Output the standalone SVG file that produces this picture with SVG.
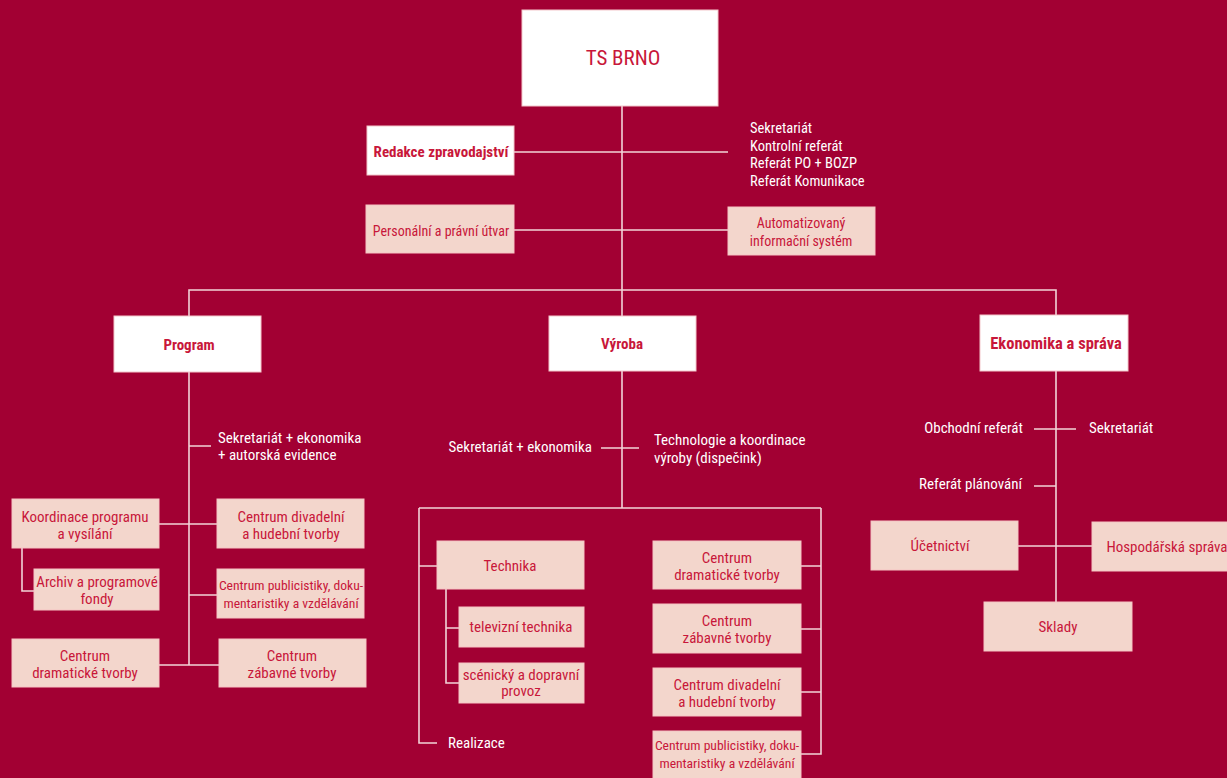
<svg xmlns="http://www.w3.org/2000/svg" width="1227" height="778" viewBox="0 0 1227 778">
<style>
.bg{fill:#a20033}
.w{fill:#ffffff;stroke:#f3c7cc;stroke-width:1}
.l{fill:#f3d6cc;stroke:#f6c4c4;stroke-width:1}
.c{fill:none;stroke:#f2d3d8;stroke-width:1.6}
text{font-family:"Liberation Sans Narrow","Roboto Condensed","Liberation Sans",Arial,sans-serif;font-size:15px}
.t{fill:#c8173a;text-anchor:middle}
.tb{fill:#c8173a;text-anchor:middle;font-weight:bold}
.wt{fill:#ffffff}
.we{fill:#ffffff;text-anchor:end}
.sm{font-size:13.6px}
</style>
<rect class="bg" x="0" y="0" width="1227" height="778"/>
<g id="connectors">
<path class="c" d="M622 106V316M514 152H728M514 230H728M189 316V290H1056V315"/>
<path class="c" d="M189 372V665M189 446H211M159 524H217M22 548V591H34M189 595H217M159 665H219"/>
<path class="c" d="M622 371V508M601 448H639M419 508H821M419 508V743H437M419 566H437M446 589V683H459M446 628H459M821 508V754H801M801 566H821M801 629H821M801 692H821"/>
<path class="c" d="M1056 371V602M1034 429H1076M1034 486H1056M1018 546H1092"/>
</g>
<g id="ts-brno"><rect class="w" x="522" y="10" width="196" height="96"/><text class="t" x="623" y="65" style="font-size:21px">TS BRNO</text></g>
<g id="redakce"><rect class="w" x="367" y="126" width="147" height="49"/><text class="tb" x="441" y="157">Redakce zpravodajství</text></g>
<g id="sekretariat-top"><text class="wt" x="750" y="133" style="font-size:14.5px">Sekretariát</text><text class="wt" x="750" y="151" style="font-size:14.5px">Kontrolní referát</text><text class="wt" x="750" y="168" style="font-size:14.5px">Referát PO + BOZP</text><text class="wt" x="750" y="186" style="font-size:14.5px">Referát Komunikace</text></g>
<g id="personalni"><rect class="l" x="366" y="205" width="148" height="48"/><text class="t" x="441" y="236" style="font-size:14px">Personální a právní útvar</text></g>
<g id="ais"><rect class="l" x="728" y="207" width="147" height="48"/><text class="t" x="801" y="228" style="font-size:14px">Automatizovaný</text><text class="t" x="801" y="246" style="font-size:14px">informační systém</text></g>
<g id="program"><rect class="w" x="114" y="316" width="147" height="56"/><text class="tb" x="189" y="350">Program</text></g>
<g id="vyroba"><rect class="w" x="549" y="316" width="147" height="55"/><text class="tb" x="622" y="349">Výroba</text></g>
<g id="ekonomika"><rect class="w" x="980" y="315" width="148" height="56"/><text class="tb" x="1056" y="349" style="font-size:16.5px">Ekonomika a správa</text></g>
<g id="p-sekretariat"><text class="wt" x="218" y="443">Sekretariát + ekonomika</text><text class="wt" x="218" y="460">+ autorská evidence</text></g>
<g id="p-koordinace"><rect class="l" x="12" y="499" width="147" height="49"/><text class="t" x="85" y="522">Koordinace programu</text><text class="t" x="85" y="539">a vysílání</text></g>
<g id="p-archiv"><rect class="l" x="34" y="569" width="125" height="41"/><text class="t" x="97" y="587">Archiv a programové</text><text class="t" x="97" y="604">fondy</text></g>
<g id="p-divadelni"><rect class="l" x="217" y="499" width="147" height="49"/><text class="t" x="291" y="522">Centrum divadelní</text><text class="t" x="291" y="539">a hudební tvorby</text></g>
<g id="p-publicistiky"><rect class="l" x="217" y="569" width="147" height="49"/><text class="t sm" x="291" y="590">Centrum publicistiky, doku-</text><text class="t sm" x="291" y="608">mentaristiky a vzdělávání</text></g>
<g id="p-dramaticke"><rect class="l" x="12" y="639" width="147" height="48"/><text class="t" x="85" y="661">Centrum</text><text class="t" x="85" y="678">dramatické tvorby</text></g>
<g id="p-zabavne"><rect class="l" x="219" y="639" width="147" height="48"/><text class="t" x="292" y="661">Centrum</text><text class="t" x="292" y="678">zábavné tvorby</text></g>
<g id="v-sekretariat"><text class="we" x="592" y="452">Sekretariát + ekonomika</text></g>
<g id="v-technologie"><text class="wt" x="654" y="445">Technologie a koordinace</text><text class="wt" x="654" y="463">výroby (dispečink)</text></g>
<g id="v-technika"><rect class="l" x="437" y="541" width="147" height="48"/><text class="t" x="510" y="571">Technika</text></g>
<g id="v-televizni"><rect class="l" x="459" y="607" width="125" height="40"/><text class="t" x="521" y="632">televizní technika</text></g>
<g id="v-scenicky"><rect class="l" x="459" y="663" width="125" height="40"/><text class="t" x="521" y="680">scénický a dopravní</text><text class="t" x="521" y="696">provoz</text></g>
<g id="v-realizace"><text class="wt" x="448" y="748">Realizace</text></g>
<g id="v-dramaticke"><rect class="l" x="653" y="541" width="148" height="48"/><text class="t" x="727" y="563">Centrum</text><text class="t" x="727" y="580">dramatické tvorby</text></g>
<g id="v-zabavne"><rect class="l" x="653" y="604" width="148" height="49"/><text class="t" x="727" y="626">Centrum</text><text class="t" x="727" y="643">zábavné tvorby</text></g>
<g id="v-divadelni"><rect class="l" x="653" y="668" width="148" height="48"/><text class="t" x="727" y="690">Centrum divadelní</text><text class="t" x="727" y="707">a hudební tvorby</text></g>
<g id="v-publicistiky"><rect class="l" x="653" y="731" width="148" height="48"/><text class="t sm" x="727" y="750">Centrum publicistiky, doku-</text><text class="t sm" x="727" y="768">mentaristiky a vzdělávání</text></g>
<g id="e-obchodni"><text class="we" x="1023" y="433">Obchodní referát</text></g>
<g id="e-sekretariat"><text class="wt" x="1089" y="433">Sekretariát</text></g>
<g id="e-planovani"><text class="we" x="1022" y="489">Referát plánování</text></g>
<g id="e-ucetnictvi"><rect class="l" x="871" y="521" width="147" height="49"/><text class="t" x="940" y="551">Účetnictví</text></g>
<g id="e-hospodarska"><rect class="l" x="1092" y="522" width="148" height="49"/><text class="t" x="1167" y="552">Hospodářská správa</text></g>
<g id="e-sklady"><rect class="l" x="984" y="602" width="148" height="49"/><text class="t" x="1058" y="632">Sklady</text></g>
</svg>
